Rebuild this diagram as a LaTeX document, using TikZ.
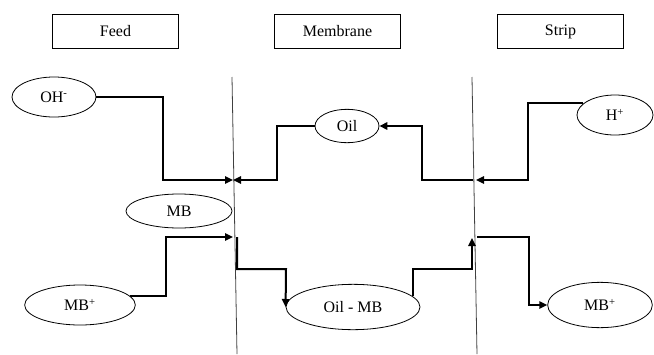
\documentclass[tikz,border=0pt]{standalone}
\usepackage{fontspec}
\setmainfont{Liberation Serif}
\usetikzlibrary{shapes.geometric,arrows.meta}
\begin{document}
\begin{tikzpicture}[x=0.75pt,y=-0.75pt,
    every node/.style={font=\fontsize{12}{14}\selectfont},
    phase/.style={draw,rectangle,inner sep=0pt,minimum width=95pt,minimum height=26pt,line width=0.6pt},
    ion/.style={draw,ellipse,inner sep=0pt,line width=0.6pt},
    wall/.style={draw=black!75,line width=0.6pt},
    flow/.style={line width=1.5pt,-{Triangle[length=6pt,width=5.5pt]}}]
      \useasboundingbox (0,0) rectangle (654,354);
      \draw
        (115.5,31.5) node[phase] (feed){Feed}
        (337.5,31.5) node[phase] (membrane){Membrane}
        (560.5,31.5) node[phase] (strip){Strip};
      \draw
        (54,97) node[ion,minimum width=63pt,minimum height=30pt] (OH){OH\textsuperscript{-}}
        (347,126) node[ion,minimum width=48pt,minimum height=25pt] (Oil){Oil}
        (615,115) node[ion,minimum width=57pt,minimum height=30pt] (H){H\textsuperscript{+}}
        (179,211) node[ion,minimum width=79.5pt,minimum height=25.5pt] (MB){MB}
        (80,305) node[ion,minimum width=83pt,minimum height=30pt] (MBf){MB\textsuperscript{+}}
        (353,307) node[ion,minimum width=100.5pt,minimum height=34pt] (OilMB){Oil - MB}
        (600,305) node[ion,minimum width=78.5pt,minimum height=34pt] (MBs){MB\textsuperscript{+}};
      \coordinate (w1top) at (232,77);
      \coordinate (w1bot) at (237,354);
      \coordinate (w2top) at (472,77);
      \coordinate (w2bot) at (477,354);
      \coordinate (a1) at (233,180);
      \coordinate (a2) at (476,180);
      \coordinate (a2b) at (473,180);
      \coordinate (a3) at (233,237);
      \coordinate (a3b) at (237,237);
      \coordinate (a4) at (472,238);
      \coordinate (a4b) at (477,237);
      \draw[wall] (w1top) -- (w1bot);
      \draw[wall] (w2top) -- (w2bot);
      \begin{scope}[flow]
        \draw (OH.east) -| (163,180) -- (a1);
        \draw (Oil.west) -| (277,180) -- (a1);
        \draw (H.160) -| (528,180) -- (a2);
        \draw (a2b) -| (422,126) -- (Oil.east);
        \draw (MBf.10) -| (166,237) -- (a3);
        \draw (a3b) |- (286,269) -- (OilMB.west);
        \draw (OilMB.10) |- (472,269) -- (a4);
        \draw (a4b) -| (529,305) -- (MBs.west);
      \end{scope}
    \end{tikzpicture}
\end{document}
